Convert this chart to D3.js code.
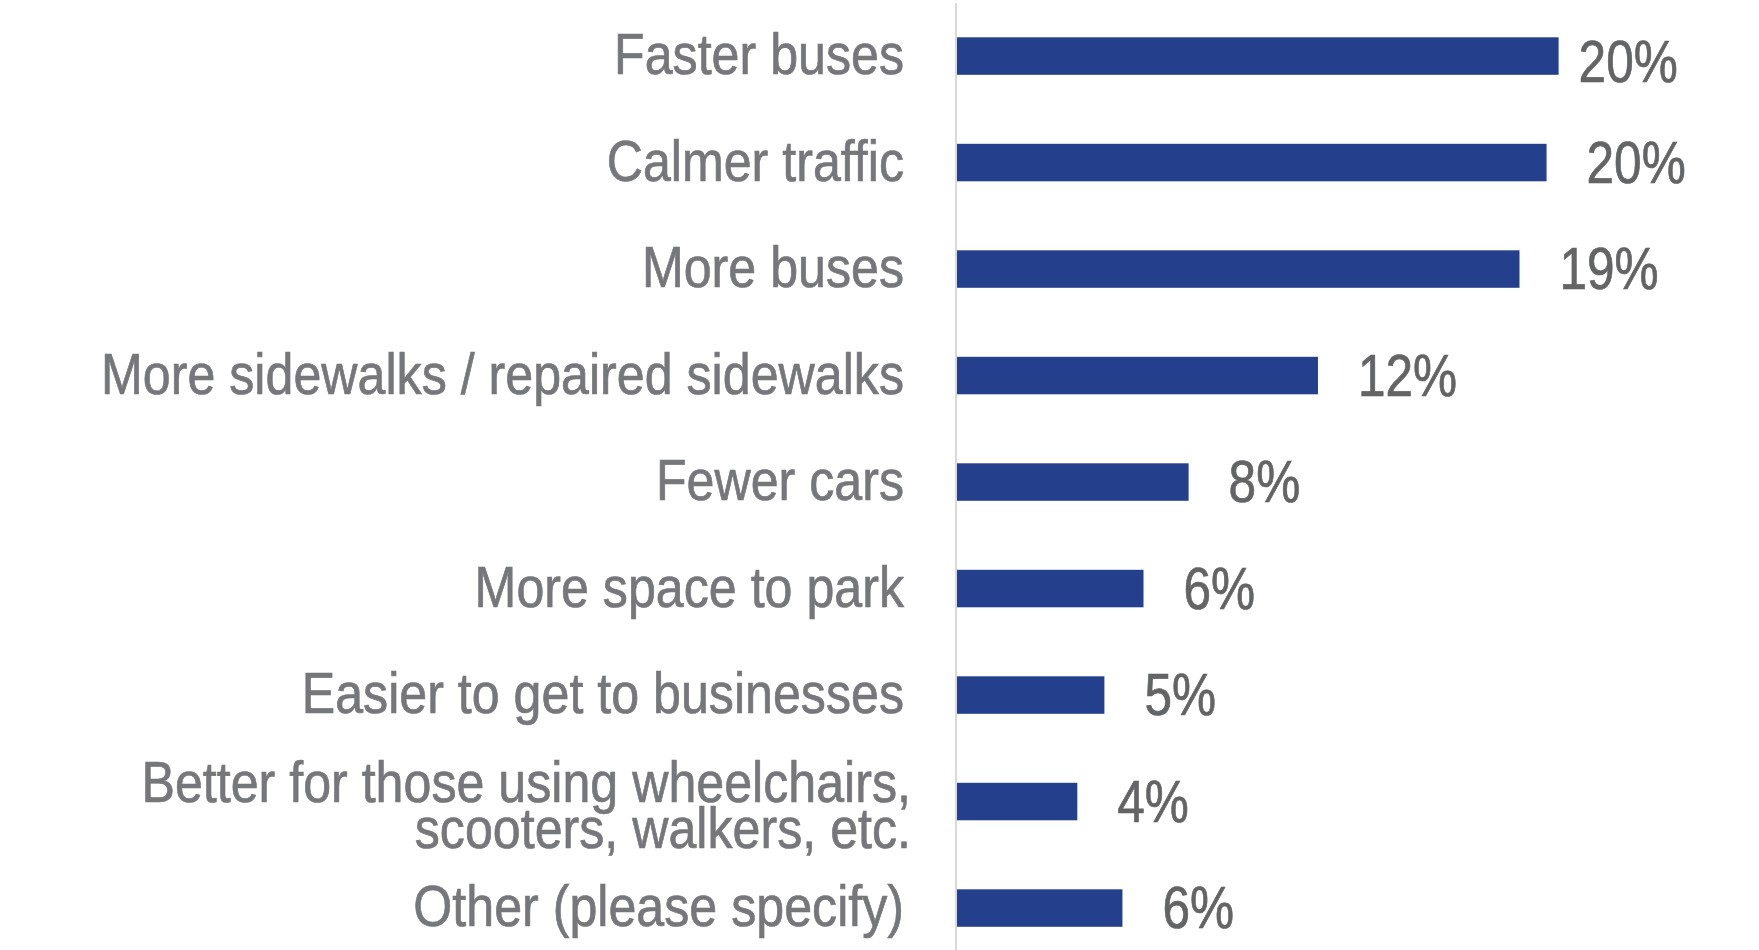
<!DOCTYPE html>
<html>
<head>
<meta charset="utf-8">
<script src="https://cdn.jsdelivr.net/npm/d3@7"></script>
<style>
    html, body { margin: 0; padding: 0; background: #ffffff; }
    svg { display: block; }
    .cat-label { font-family: "Liberation Sans", Arial, sans-serif; font-size: 58px; fill: #76777a; stroke: #76777a; stroke-width: 0.7px; }
    .value-label { font-family: "Liberation Sans", Arial, sans-serif; font-size: 59px; fill: #636466; stroke: #636466; stroke-width: 0.7px; }
</style>
</head>
<body>
<svg id="chart"></svg>
<script>
// Survey answers, top to bottom
const categories = [
    'Faster buses',
    'Calmer traffic',
    'More buses',
    'More sidewalks / repaired sidewalks',
    'Fewer cars',
    'More space to park',
    'Easier to get to businesses',
    'Better for those using wheelchairs,\nscooters, walkers, etc.',
    'Other (please specify)'
];
// Share of responses (%)
const shares = [20.0, 19.6, 18.7, 12.0, 7.7, 6.2, 4.9, 4.0, 5.5];
// Data labels as printed on the chart
const shareLabels = ['20%', '20%', '19%', '12%', '8%', '6%', '5%', '4%', '6%'];

const WIDTH = 1759;
const HEIGHT = 950;

const axisX = 956;
const labelGap = 52;      // space between category text and the axis
const valueGap = 40;      // space between bar end and its value
const lineHeight = 46.5;
const narrow = 0.865;     // squeeze Arial-like font into a condensed look

let svg = d3.select('#chart')
    .attr('width', WIDTH)
    .attr('height', HEIGHT);

let xScale = d3.scaleLinear()
    .domain([0, 25])
    .range([axisX + 1, axisX + 1 + 25 * 30.08]);

let yScale = d3.scaleBand()
    .domain(categories)
    .range([2.8, 961.3])
    .paddingInner(0.648)
    .paddingOuter(0.324);

// Bars
svg.selectAll('.bar')
    .data(shares)
    .enter().append('rect')
    .attr('class', 'bar')
    .attr('x', xScale(0))
    .attr('y', (d, i) => yScale(categories[i]))
    .attr('width', d => xScale(d) - xScale(0))
    .attr('height', yScale.bandwidth())
    .attr('fill', '#243f8b');

// Vertical axis line
svg.append('line')
    .attr('x1', axisX)
    .attr('x2', axisX)
    .attr('y1', 3)
    .attr('y2', HEIGHT)
    .attr('stroke', '#d9d9d9')
    .attr('stroke-width', 2);

// Category labels (right aligned, may wrap onto two lines)
svg.selectAll('.cat-label')
    .data(categories)
    .enter().append('text')
    .attr('class', 'cat-label')
    .attr('text-anchor', 'end')
    .each(function (d) {
        let lines = d.split('\n');
        let cy = yScale(d) + yScale.bandwidth() / 2;
        let first = cy + 18 - (lines.length - 1) * 18;
        let right = axisX - labelGap + (lines.length > 1 ? 7 : 0);
        d3.select(this)
            .attr('transform', `translate(${right}, ${first}) scale(${narrow}, 1)`)
            .selectAll('tspan')
            .data(lines)
            .enter().append('tspan')
            .attr('x', 0)
            .attr('y', (_l, j) => j * lineHeight)
            .text(l => l);
    });

// Value labels; the first one sits a bit lower and closer in the original
svg.selectAll('.value-label')
    .data(shares)
    .enter().append('text')
    .attr('class', 'value-label')
    .attr('transform', (d, i) => {
        let x = xScale(d) + (i === 0 ? 20 : valueGap);
        let y = yScale(categories[i]) + yScale.bandwidth() / 2 + 20 + (i === 0 ? 6 : 0);
        return `translate(${x}, ${y}) scale(0.84, 1)`;
    })
    .text((d, i) => shareLabels[i]);
</script>
</body>
</html>
